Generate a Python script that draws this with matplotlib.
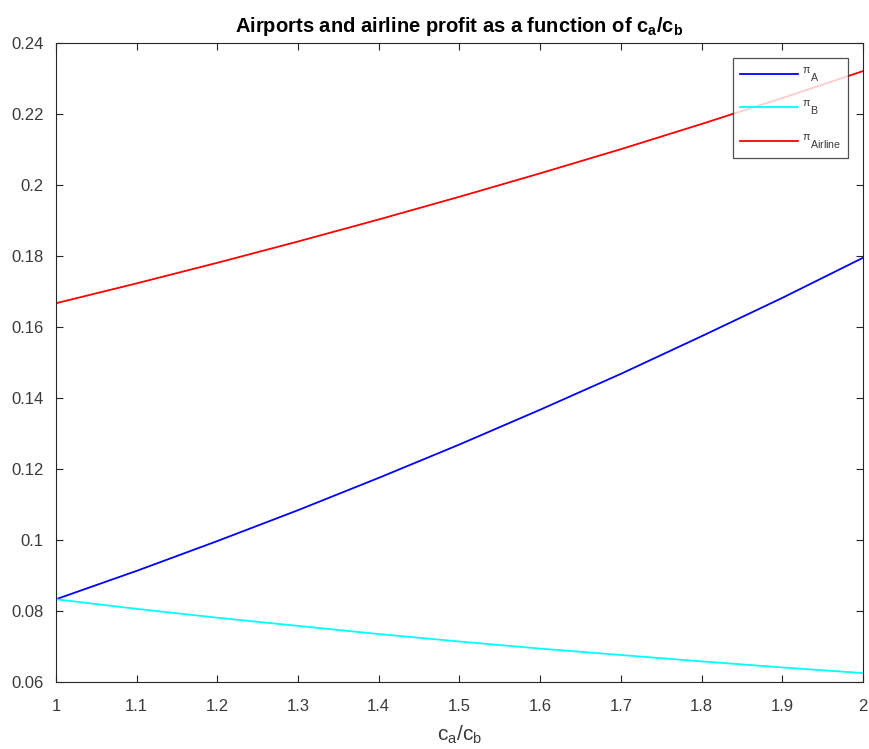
import numpy as np
import matplotlib
matplotlib.use('Agg')
import matplotlib.pyplot as plt

# ---- data (ratio c_a/c_b on x) ----
ratio      = [1.0, 1.1, 1.2, 1.3, 1.4, 1.5, 1.6, 1.7, 1.8, 1.9, 2.0]
pi_a       = [0.0833, 0.0913, 0.0997, 0.1084, 0.1175, 0.1269, 0.1367, 0.1468, 0.1574, 0.1682, 0.1795]
pi_b       = [0.0833, 0.0806, 0.0781, 0.0758, 0.0735, 0.0714, 0.0694, 0.0676, 0.0658, 0.0641, 0.0625]
pi_airline = [0.1667, 0.1723, 0.1781, 0.1841, 0.1903, 0.1967, 0.2033, 0.2101, 0.2172, 0.2245, 0.2321]

x_ticks = [1, 1.1, 1.2, 1.3, 1.4, 1.5, 1.6, 1.7, 1.8, 1.9, 2]
x_tick_labels = ['1', '1.1', '1.2', '1.3', '1.4', '1.5', '1.6', '1.7', '1.8', '1.9', '2']
y_ticks = [0.06, 0.08, 0.1, 0.12, 0.14, 0.16, 0.18, 0.2, 0.22, 0.24]
y_tick_labels = ['0.06', '0.08', '0.1', '0.12', '0.14', '0.16', '0.18', '0.2', '0.22', '0.24']

plt.rcParams['font.family'] = ['Liberation Sans', 'DejaVu Sans']
plt.rcParams['mathtext.default'] = 'regular'
axis_grey = '#262626'
label_grey = '#3a3a3a'

fig = plt.figure(figsize=(8.69, 7.49), dpi=100)
ax = fig.add_axes([0.0644, 0.0895, 0.9286, 0.853])

ax.plot(ratio, pi_a, color=(0, 0, 1), lw=1.3, label=r'$^{\pi}{}_{A}$')
ax.plot(ratio, pi_b, color=(0, 1, 1), lw=1.3, label=r'$^{\pi}{}_{B}$')
ax.plot(ratio, pi_airline, color=(1, 0, 0), lw=1.3, label=r'$^{\pi}{}_{Airline}$')

ax.set_xlim(1, 2)
ax.set_ylim(0.06, 0.24)
ax.set_xticks(x_ticks)
ax.set_xticklabels(x_tick_labels)
ax.set_yticks(y_ticks)
ax.set_yticklabels(y_tick_labels)

ax.tick_params(direction='in', top=True, right=True, length=5, width=0.8,
               colors=axis_grey, labelcolor=label_grey, labelsize=12)
ax.tick_params(axis='y', pad=9)
ax.tick_params(axis='x', pad=12)
for sp in ax.spines.values():
    sp.set_color(axis_grey)
    sp.set_linewidth(0.8)

ax.set_xlabel(r'c$_a$/c$_b$', fontsize=15, color=label_grey, labelpad=7)
ax.set_title(r'Airports and airline profit as a function of c$_a$/c$_b$',
             fontsize=14.5, fontweight='bold', color='black', pad=8)

leg = ax.legend(loc='upper right', bbox_to_anchor=(0.982, 0.976), fontsize=11,
                frameon=True, fancybox=False, handlelength=3.8, handletextpad=0.25,
                labelspacing=1.0, borderpad=0.45, borderaxespad=0.0,
                labelcolor=label_grey)
leg.get_frame().set_edgecolor(axis_grey)
leg.get_frame().set_linewidth(0.9)

fig.savefig('out.png', dpi=100)
